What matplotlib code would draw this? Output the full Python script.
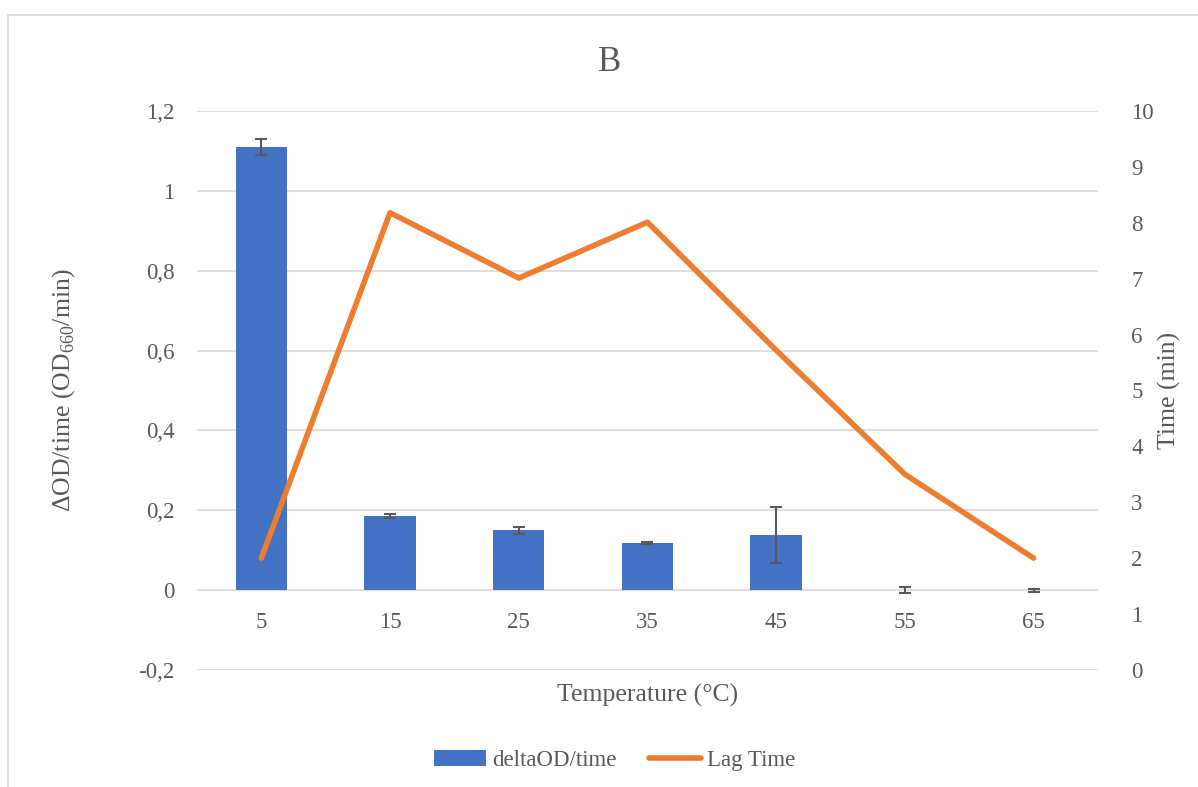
import matplotlib.pyplot as plt
from matplotlib.patches import Rectangle
from matplotlib.ticker import FuncFormatter
import numpy as np

plt.rcParams['font.family'] = ['Liberation Serif', 'DejaVu Serif']
plt.rcParams['mathtext.fontset'] = 'custom'
plt.rcParams['mathtext.rm'] = 'Liberation Serif'

# Data
temps = ['5', '15', '25', '35', '45', '55', '65']
delta_od = [1.11, 0.185, 0.15, 0.118, 0.138, 0.0, 0.0]
delta_err = [0.021, 0.005, 0.009, 0.003, 0.069, 0.007, 0.004]
lag_time = [2.0, 8.18, 7.01, 8.01, 5.72, 3.5, 2.0]

text_col = '#595959'
grid_col = '#d9d9d9'
blue = '#4472c4'
orange = '#ed7d31'

fig = plt.figure(figsize=(11.98, 7.87), dpi=100)
ax = fig.add_axes([0.1644, 0.1487, 0.7521, 0.7103])
x = np.arange(len(temps))

# outer chart frame
fig.patches.append(Rectangle((8 / 1198, -0.1), 1.2, 1 - 15 / 787 + 0.1,
                             transform=fig.transFigure, fill=False,
                             edgecolor=grid_col, linewidth=1.2))

ax.bar(x, delta_od, width=0.4, color=blue, zorder=3, label='deltaOD/time')
ax.errorbar(x, delta_od, yerr=delta_err, fmt='none', ecolor='#595959',
            elinewidth=1.5, capsize=4.5, capthick=1.5, zorder=4)
ax.set_xlim(-0.5, len(temps) - 0.5)
ax.set_ylim(-0.2, 1.2)
ax.set_yticks(np.arange(-0.2, 1.21, 0.2))
ax.yaxis.set_major_formatter(FuncFormatter(
    lambda v, p: '0' if abs(v) < 1e-9 else ('1' if abs(v - 1) < 1e-9 else ('%g' % round(v, 1)).replace('.', ','))))
ax.grid(axis='y', color=grid_col, linewidth=1.2, zorder=0)
for s in ax.spines.values():
    s.set_visible(False)
ax.spines['bottom'].set_position(('data', 0))
ax.set_xticks(x)
ax.set_xticklabels(temps)
ax.tick_params(axis='both', length=0, labelsize=16.5, colors=text_col, pad=16)
ax.tick_params(axis='y', pad=16)
ax.set_ylabel('ΔOD/time (OD$_{660}$/min)', fontsize=18.5, color=text_col, labelpad=44)
ax.text(0.5, -0.045, 'Temperature (°C)', transform=ax.transAxes, ha='center',
        va='center', fontsize=18.5, color=text_col)

ax2 = ax.twinx()
ax2.plot(x, lag_time, color=orange, linewidth=4, solid_capstyle='round',
         zorder=5, label='Lag Time')
ax2.set_ylim(0, 10)
ax2.set_yticks(range(0, 11))
for s in ax2.spines.values():
    s.set_visible(False)
ax2.tick_params(axis='y', length=0, labelsize=16.5, colors=text_col, pad=24)
ax2.set_ylabel('Time (min)', fontsize=18.5, color=text_col, labelpad=3)

fig.text(0.509, 0.921, 'B', ha='center', va='center', fontsize=25, color=text_col)

h1, l1 = ax.get_legend_handles_labels()
h2, l2 = ax2.get_legend_handles_labels()
fig.legend(h1 + h2, l1 + l2, loc='center', bbox_to_anchor=(0.513, 0.034),
           ncol=2, frameon=False, fontsize=16.5, labelcolor=text_col,
           handlelength=2.3, columnspacing=1.4, handletextpad=0.25)

fig.savefig('out.png', dpi=100)
